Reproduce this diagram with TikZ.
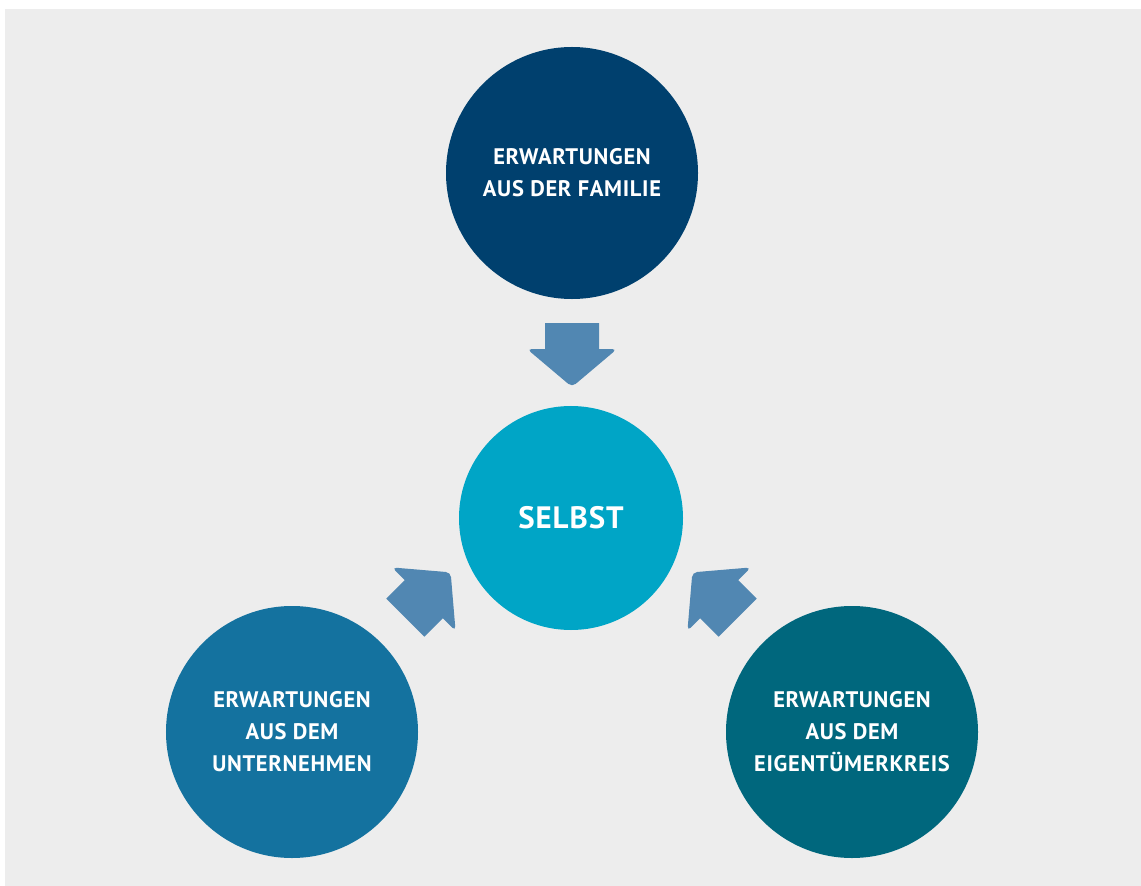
\documentclass[tikz,border=0pt]{standalone}
\usepackage{fontspec}
\setmainfont{PT Sans}[LetterSpace=3]
\usepackage{tikz}
\usetikzlibrary{positioning}
\definecolor{bggray}{HTML}{EDEDED}
\definecolor{famblue}{HTML}{00406E}
\definecolor{selfcyan}{HTML}{00A5C6}
\definecolor{firmblue}{HTML}{14729F}
\definecolor{ownteal}{HTML}{00677D}
\definecolor{arrowblue}{HTML}{5187B2}

\tikzset{
  sphere/.style={circle, minimum size=63mm, inner sep=0pt, align=center,
                 text=white, font=\bfseries\fontsize{16}{22.7}\selectfont},
  inarrow/.pic={
    \fill[arrowblue] (-27,-32) -- (27,-32) -- (27,-6)
      [rounded corners=1.2mm] -- (45,-6) -- (0,32) -- (-45,-6)
      [sharp corners] -- (-27,-6) -- cycle;
  }
}

\begin{document}
\begin{tikzpicture}[x=0.25mm, y=-0.25mm]
\useasboundingbox (0,0) rectangle (1141,886);
% Background panel
\fill[bggray] (5,9) rectangle (1141,886);
% Circles
\node[sphere, fill=famblue] (family) at (572,173) {ERWARTUNGEN\\AUS DER FAMILIE};
\node[sphere, fill=selfcyan, minimum size=56mm,
      font=\bfseries\fontsize{22}{26}\selectfont] (selbst) at (571,518) {SELBST};
\node[sphere, fill=firmblue] (firm) at (292,732) {ERWARTUNGEN\\AUS DEM\\UNTERNEHMEN};
\node[sphere, fill=ownteal] (owners) at (852,732) {ERWARTUNGEN\\AUS DEM\\EIGENTÜMERKREIS};
% Arrows towards the centre
\pic at (572,355) {inarrow};
\pic[rotate=135] at (428,595) {inarrow};
\pic[rotate=-135] at (715,595) {inarrow};
\end{tikzpicture}
\end{document}
